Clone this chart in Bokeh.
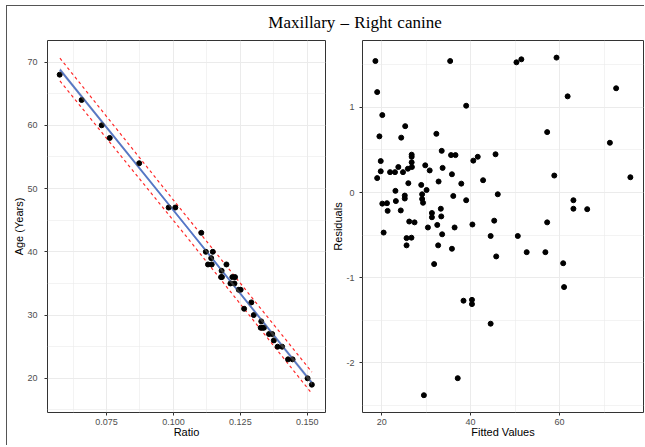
from bokeh.plotting import figure
from bokeh.layouts import row, column
from bokeh.models import Div, FixedTicker, Range1d, ColumnDataSource, Band
from bokeh.embed import file_html
from bokeh.resources import INLINE

# ---------------- data: left panel (Age vs Ratio) ----------------
ratio = [0.0575, 0.0657, 0.0732, 0.0762, 0.0872, 0.0982, 0.1007, 0.1104,
         0.1121, 0.1147, 0.1129, 0.1143, 0.1141, 0.1198, 0.1180, 0.1178,
         0.1181, 0.1220, 0.1230, 0.1213, 0.1228, 0.1244, 0.1251, 0.1264,
         0.1291, 0.1300, 0.1328, 0.1326, 0.1333, 0.1338, 0.1357, 0.1369,
         0.1375, 0.1389, 0.1406, 0.1428, 0.1445, 0.1501, 0.1517]
age = [68, 64, 60, 58, 54, 47, 47, 43,
       40, 40, 38, 38, 39, 38, 37, 36,
       36, 36, 36, 35, 35, 34, 34, 31,
       32, 30, 29, 28, 28, 28, 27, 27,
       26, 25, 25, 23, 23, 20, 19]

line_ratio = [0.0576, 0.1045, 0.1517]
line_fit = [68.8, 44.2, 19.3]
se_lower = [68.45, 44.0, 18.95]
se_upper = [69.15, 44.4, 19.65]
pi_lower = [67.0, 42.6, 17.6]
pi_upper = [70.6, 45.8, 21.0]

x1_ticks = [0.075, 0.100, 0.125, 0.150]
x1_labels = ["0.075", "0.100", "0.125", "0.150"]
x1_minor = [0.0625, 0.0875, 0.1125, 0.1375]
y1_ticks = [20, 30, 40, 50, 60, 70]
y1_minor = [15, 25, 35, 45, 55, 65]

# ---------------- data: right panel (Residuals vs Fitted) ----------------
fitted = [18.6, 19.0, 20.15, 19.5, 19.8, 19.8, 19.0, 20.15, 21.2, 21.35,
          20.45, 21.9, 23.0, 23.75, 23.1, 23.2, 24.3, 24.4, 24.8, 25.3,
          25.2, 25.2, 25.9, 26.0, 26.75, 26.75, 26.75, 26.8, 26.2, 27.4,
          25.6, 26.7, 28.9, 29.1, 29.1, 29.3, 29.8, 30.1, 30.8, 30.4,
          31.3, 31.3, 32.3, 32.8, 32.5, 33.3, 33.4, 33.6, 33.5, 33.7,
          35.4, 35.6, 36.6, 35.8, 36.1, 36.4, 37.9, 39.0, 39.0, 40.4,
          40.6, 41.6, 42.8, 44.5, 45.3, 45.6, 46.1, 50.3, 51.4, 50.6,
          57.2, 57.2, 58.8, 59.3, 61.8, 63.1, 63.1, 66.2, 71.3, 72.7,
          75.9, 25.6, 32.7, 35.8, 31.8, 45.75, 52.6, 56.8, 60.8, 61.0,
          38.4, 40.3, 40.3, 44.5, 37.1, 29.5]
resid = [1.545, 1.18, 0.91, 0.66, 0.37, 0.25, 0.17, -0.13, -0.125, -0.215,
         -0.47, 0.24, 0.24, 0.30, 0.02, -0.10, -0.21, 0.645, 0.24, 0.78,
         -0.035, -0.07, 0.28, 0.11, 0.445, 0.42, 0.355, 0.30, -0.34, -0.35,
         -0.535, -0.53, 0.09, -0.02, -0.075, -0.12, 0.32, 0.03, 0.26, -0.41,
         -0.24, -0.29, 0.69, 0.13, -0.38, -0.19, -0.28, -0.49, 0.49, 0.29,
         1.545, 0.44, 0.44, 0.215, -0.04, -0.41, 0.105, 1.02, -0.09, -0.375,
         0.375, 0.42, 0.145, -0.51, -0.33, 0.45, -0.02, 1.53, 1.565, -0.51,
         0.71, -0.35, 0.20, 1.585, 1.13, -0.09, -0.19, -0.195, 0.585, 1.225,
         0.18, -0.62, -0.62, -0.66, -0.84, -0.75, -0.70, -0.70, -0.83, -1.11,
         -1.27, -1.26, -1.31, -1.54, -2.18, -2.38]

x2_ticks = [20, 40, 60]
x2_labels = ["20", "40", "60"]
x2_minor = [30, 50, 70]
y2_ticks = [-2, -1, 0, 1]
y2_labels = ["-2", "-1", "0", "1"]
y2_minor = [-2.5, -1.5, -0.5, 0.5, 1.5]

FONT = "Liberation Sans"
GRID = "#ebebeb"


def style(p, xt, xm, yt, ym, xlab, ylab, ystandoff, xlabels=None, ylabels=None):
    p.outline_line_color = "#333333"
    p.outline_line_width = 1
    p.xaxis.ticker = FixedTicker(ticks=xt, minor_ticks=xm)
    p.yaxis.ticker = FixedTicker(ticks=yt, minor_ticks=ym)
    p.xgrid.ticker = FixedTicker(ticks=xt, minor_ticks=xm)
    p.ygrid.ticker = FixedTicker(ticks=yt, minor_ticks=ym)
    for g in (p.xgrid, p.ygrid):
        g.grid_line_color = GRID
        g.grid_line_width = 1
        g.minor_grid_line_color = GRID
        g.minor_grid_line_width = 0.6
    for ax in (p.xaxis, p.yaxis):
        ax.axis_line_color = None
        ax.major_tick_line_color = "#333333"
        ax.major_tick_in = 0
        ax.major_tick_out = 3
        ax.minor_tick_line_color = None
        ax.major_label_text_font = FONT
        ax.major_label_text_font_size = "9px"
        ax.major_label_text_color = "#4d4d4d"
        ax.axis_label_text_font = FONT
        ax.axis_label_text_font_size = "11px"
        ax.axis_label_text_font_style = "normal"
        ax.axis_label_text_color = "#000000"
    p.xaxis.major_label_standoff = 2
    p.xaxis.axis_label_standoff = -2
    p.yaxis.major_label_standoff = ystandoff
    p.yaxis.axis_label_standoff = -1
    p.xaxis.axis_label = xlab
    p.yaxis.axis_label = ylab
    if xlabels:
        p.xaxis.major_label_overrides = {t: l for t, l in zip(xt, xlabels)}
    if ylabels:
        p.yaxis.major_label_overrides = {t: l for t, l in zip(yt, ylabels)}


# ---------------- left panel ----------------
p1 = figure(width=319, height=403, output_backend="svg", toolbar_location=None,
            x_range=Range1d(0.05295, 0.1568), y_range=Range1d(14.6, 73.4),
            min_border_left=40, min_border_right=1, min_border_top=1,
            min_border_bottom=30, margin=0)
style(p1, x1_ticks, x1_minor, y1_ticks, y1_minor, "Ratio", "Age (Years)", 6,
      xlabels=x1_labels)

line_src = ColumnDataSource(dict(x=line_ratio, fit=line_fit, lo=se_lower,
                                 hi=se_upper, plo=pi_lower, phi=pi_upper))
p1.add_layout(Band(base="x", lower="lo", upper="hi", source=line_src,
                   fill_color="#999999", fill_alpha=0.35, line_color=None))
p1.line("x", "plo", source=line_src, line_color="#ff2a2a", line_width=1.2,
        line_dash="3 3")
p1.line("x", "phi", source=line_src, line_color="#ff2a2a", line_width=1.2,
        line_dash="3 3")
p1.line("x", "fit", source=line_src, line_color="#3366dd", line_width=1.8)
p1.scatter(ratio, age, size=5, color="black")

# ---------------- right panel ----------------
p2 = figure(width=318, height=403, output_backend="svg", toolbar_location=None,
            x_range=Range1d(15.7, 78.85), y_range=Range1d(-2.583, 1.786),
            min_border_left=36, min_border_right=1, min_border_top=1,
            min_border_bottom=30, margin=0)
style(p2, x2_ticks, x2_minor, y2_ticks, y2_minor, "Fitted Values", "Residuals", 4,
      xlabels=x2_labels, ylabels=y2_labels)
p2.scatter(fitted, resid, size=5, color="black")

title = Div(
    text='<div style="width:637px;height:34px;border-top:1px solid #555555;'
         'text-align:center;font-family:\'Liberation Serif\';'
         'font-size:17px;line-height:24px;color:#000;padding-left:59px;padding-top:5px;'
         'word-spacing:1px;box-sizing:border-box;">Maxillary &ndash; Right canine</div>',
    width=637, height=34, margin=0)

left_rule = Div(text='<div style="width:1px;height:440px;background:#555555;"></div>',
                width=1, height=440, margin=0)

layout = row(left_rule, column(title, row(p1, p2, spacing=0), spacing=0),
             spacing=0, margin=(5, 0, 0, 6))

open("out.html", "w").write(file_html(layout, INLINE))
